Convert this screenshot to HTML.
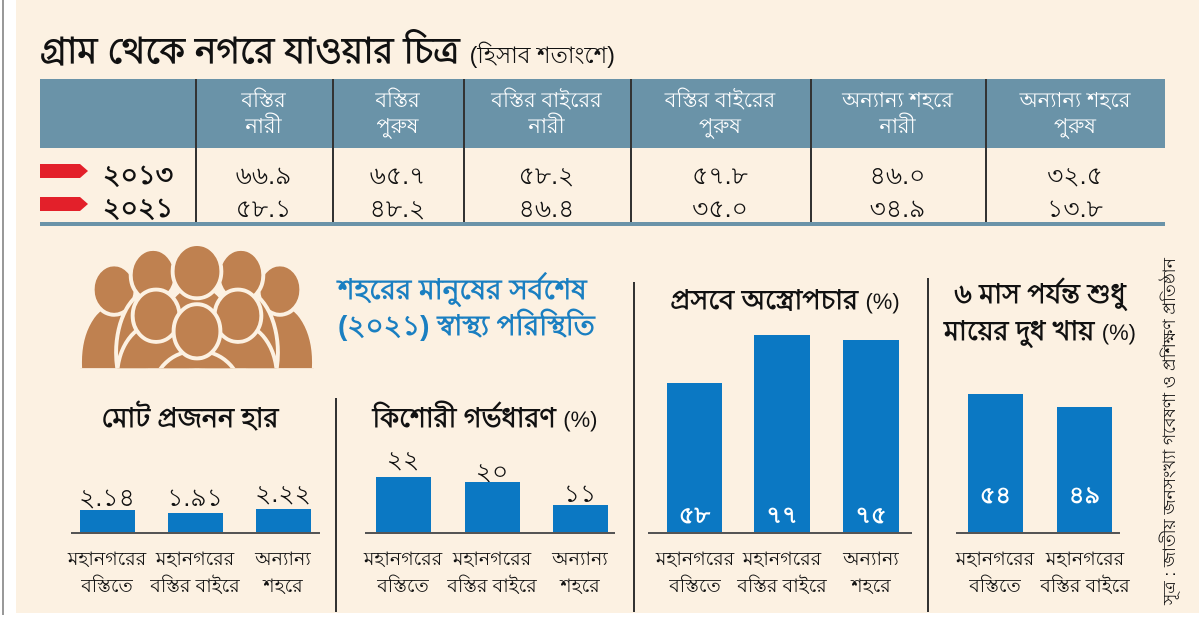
<!DOCTYPE html>
<html><head><meta charset="utf-8"><style>
*{margin:0;padding:0;box-sizing:border-box}
body{width:1200px;height:638px;background:#fff;position:relative;overflow:hidden;font-family:"Liberation Sans","Noto Sans CJK SC",sans-serif;color:#111}
.a{position:absolute}
.bar{position:absolute;background:#0b78c3}
.vl{position:absolute;width:1.5px;background:#333}
.hl{position:absolute;height:2px;background:#555}
.th{position:absolute;top:79px;height:69px;color:#fff;font-size:21px;line-height:26px;text-align:center;display:flex;align-items:center;justify-content:center}
.td{position:absolute;font-size:25px;text-align:center}
.cat{position:absolute;font-size:19px;line-height:27px;text-align:center;white-space:nowrap}
.val{position:absolute;font-size:25px;text-align:center}
.wv{position:absolute;font-size:24px;font-weight:bold;color:#fff;text-align:center}
.tt{position:absolute;font-size:27px;font-weight:bold;text-align:center;white-space:nowrap}
</style></head><body>
<div class="a" style="left:2px;top:0;width:1.5px;height:615px;background:#999"></div>
<div class="a" style="left:16px;top:0;width:1183px;height:613px;background:#fcf1e2"></div>

<div class="a" style="left:40px;top:24px;font-size:36px;font-weight:bold;white-space:nowrap">গ্রাম থেকে নগরে যাওয়ার চিত্র <span style="font-size:23px;font-weight:normal">(হিসাব শতাংশে)</span></div>

<div class="a" style="left:40px;top:79px;width:1125px;height:69px;background:#6a93a8"></div>
<div class="th" style="left:195px;width:137px">বস্তির<br>নারী</div>
<div class="th" style="left:332px;width:131px">বস্তির<br>পুরুষ</div>
<div class="th" style="left:463px;width:167px">বস্তির বাইরের<br>নারী</div>
<div class="th" style="left:630px;width:180px">বস্তির বাইরের<br>পুরুষ</div>
<div class="th" style="left:810px;width:175px">অন্যান্য শহরে<br>নারী</div>
<div class="th" style="left:985px;width:180px">অন্যান্য শহরে<br>পুরুষ</div>
<div class="vl" style="left:195px;top:79px;height:144px"></div>
<div class="vl" style="left:332px;top:79px;height:144px"></div>
<div class="vl" style="left:463px;top:79px;height:144px"></div>
<div class="vl" style="left:630px;top:79px;height:144px"></div>
<div class="vl" style="left:810px;top:79px;height:144px"></div>
<div class="vl" style="left:985px;top:79px;height:144px"></div>
<div class="a" style="left:40px;top:222px;width:1125px;height:4px;background:#6a93a8"></div>

<svg class="a" style="left:40px;top:164px" width="50" height="50"><polygon points="0,0 40,0 48,7 40,14 0,14" fill="#e3202a"/><polygon points="0,33 40,33 48,40 40,47 0,47" fill="#e3202a"/></svg>
<div class="a" style="left:103px;top:155px;font-size:27px;font-weight:bold">২০১৩</div>
<div class="a" style="left:103px;top:188px;font-size:27px;font-weight:bold">২০২১</div>
<div class="td" style="left:195px;width:137px;top:156px">৬৬.৯</div>
<div class="td" style="left:332px;width:131px;top:156px">৬৫.৭</div>
<div class="td" style="left:463px;width:167px;top:156px">৫৮.২</div>
<div class="td" style="left:630px;width:180px;top:156px">৫৭.৮</div>
<div class="td" style="left:810px;width:175px;top:156px">৪৬.০</div>
<div class="td" style="left:985px;width:180px;top:156px">৩২.৫</div>
<div class="td" style="left:195px;width:137px;top:189px">৫৮.১</div>
<div class="td" style="left:332px;width:131px;top:189px">৪৮.২</div>
<div class="td" style="left:463px;width:167px;top:189px">৪৬.৪</div>
<div class="td" style="left:630px;width:180px;top:189px">৩৫.০</div>
<div class="td" style="left:810px;width:175px;top:189px">৩৪.৯</div>
<div class="td" style="left:985px;width:180px;top:189px">১৩.৮</div>

<svg class="a" style="left:80px;top:246px" width="234" height="124" viewBox="0 0 240 128" preserveAspectRatio="none">
<defs><clipPath id="cp"><rect x="0" y="0" width="240" height="126"/></clipPath></defs>
<g clip-path="url(#cp)" fill="#bf8150" stroke="#fcf1e2" stroke-width="4">
<ellipse cx="35" cy="120" rx="35" ry="60"/><ellipse cx="205" cy="120" rx="35" ry="60"/>
<ellipse cx="35" cy="45" rx="22" ry="26"/><ellipse cx="205" cy="45" rx="22" ry="26"/>
<ellipse cx="75" cy="110" rx="38" ry="65"/><ellipse cx="165" cy="110" rx="38" ry="65"/>
<ellipse cx="75" cy="30" rx="23" ry="27"/><ellipse cx="165" cy="30" rx="23" ry="27"/>
<ellipse cx="120" cy="100" rx="40" ry="60"/><ellipse cx="120" cy="26" rx="25" ry="28"/>
<ellipse cx="78" cy="135" rx="40" ry="55"/><ellipse cx="162" cy="135" rx="40" ry="55"/>
<ellipse cx="78" cy="72" rx="24" ry="27"/><ellipse cx="162" cy="72" rx="24" ry="27"/>
<ellipse cx="120" cy="150" rx="45" ry="42"/><ellipse cx="120" cy="88" rx="24" ry="28"/>
</g></svg>
<div class="a" style="left:338px;top:272px;font-size:28px;line-height:36px;font-weight:bold;color:#1a7fc1;white-space:nowrap">শহরের মানুষের সর্বশেষ<br>(২০২১) স্বাস্থ্য পরিস্থিতি</div>

<div class="vl" style="left:335px;top:398px;height:214px"></div>
<div class="vl" style="left:633px;top:282px;height:330px"></div>
<div class="vl" style="left:927px;top:278px;height:334px"></div>

<div class="tt" style="left:60px;width:260px;top:398px">মোট প্রজনন হার</div>
<div class="val" style="left:67px;width:80px;top:478px">২.১৪</div>
<div class="val" style="left:155px;width:80px;top:478px">১.৯১</div>
<div class="val" style="left:243px;width:80px;top:474px">২.২২</div>
<div class="bar" style="left:80px;top:510px;width:55px;height:23px"></div>
<div class="bar" style="left:168px;top:513px;width:55px;height:20px"></div>
<div class="bar" style="left:256px;top:509px;width:55px;height:24px"></div>
<div class="hl" style="left:71px;top:532px;width:249px"></div>
<div class="cat" style="left:52px;width:110px;top:546px">মহানগরের<br>বস্তিতে</div>
<div class="cat" style="left:140px;width:110px;top:546px">মহানগরের<br>বস্তির বাইরে</div>
<div class="cat" style="left:228px;width:110px;top:546px">অন্যান্য<br>শহরে</div>

<div class="tt" style="left:345px;width:280px;top:398px">কিশোরী গর্ভধারণ <span style="font-weight:normal;font-size:22px">(%)</span></div>
<div class="val" style="left:368px;width:70px;top:440px">২২</div>
<div class="val" style="left:457px;width:70px;top:452px">২০</div>
<div class="val" style="left:545px;width:70px;top:474px">১১</div>
<div class="bar" style="left:376px;top:477px;width:55px;height:56px"></div>
<div class="bar" style="left:465px;top:482px;width:55px;height:51px"></div>
<div class="bar" style="left:553px;top:505px;width:55px;height:28px"></div>
<div class="hl" style="left:365px;top:532px;width:250px"></div>
<div class="cat" style="left:348px;width:110px;top:546px">মহানগরের<br>বস্তিতে</div>
<div class="cat" style="left:437px;width:110px;top:546px">মহানগরের<br>বস্তির বাইরে</div>
<div class="cat" style="left:525px;width:110px;top:546px">অন্যান্য<br>শহরে</div>

<div class="tt" style="left:645px;width:280px;top:280px">প্রসবে অস্ত্রোপচার <span style="font-weight:normal;font-size:22px">(%)</span></div>
<div class="bar" style="left:667px;top:383px;width:55px;height:150px"></div>
<div class="bar" style="left:754px;top:335px;width:56px;height:198px"></div>
<div class="bar" style="left:843px;top:340px;width:56px;height:193px"></div>
<div class="wv" style="left:667px;width:55px;top:497px">৫৮</div>
<div class="wv" style="left:754px;width:56px;top:497px">৭৭</div>
<div class="wv" style="left:843px;width:56px;top:497px">৭৫</div>
<div class="hl" style="left:648px;top:532px;width:264px"></div>
<div class="cat" style="left:640px;width:110px;top:546px">মহানগরের<br>বস্তিতে</div>
<div class="cat" style="left:727px;width:110px;top:546px">মহানগরের<br>বস্তির বাইরে</div>
<div class="cat" style="left:816px;width:110px;top:546px">অন্যান্য<br>শহরে</div>

<div class="tt" style="left:930px;width:220px;top:276px;line-height:37px">৬ মাস পর্যন্ত শুধু<br>মায়ের দুধ খায় <span style="font-weight:normal;font-size:22px">(%)</span></div>
<div class="bar" style="left:968px;top:394px;width:55px;height:139px"></div>
<div class="bar" style="left:1057px;top:407px;width:55px;height:126px"></div>
<div class="wv" style="left:968px;width:55px;top:477px">৫৪</div>
<div class="wv" style="left:1057px;width:55px;top:477px">৪৯</div>
<div class="hl" style="left:956px;top:532px;width:164px"></div>
<div class="cat" style="left:940px;width:110px;top:546px">মহানগরের<br>বস্তিতে</div>
<div class="cat" style="left:1030px;width:110px;top:546px">মহানগরের<br>বস্তির বাইরে</div>

<div class="a" style="left:1170px;top:435px;width:0;height:0">
<div style="position:absolute;left:-170px;top:-12px;width:340px;text-align:center;font-size:17px;line-height:24px;white-space:nowrap;transform:rotate(-90deg)">সূত্র : জাতীয় জনসংখ্যা গবেষণা ও প্রশিক্ষণ প্রতিষ্ঠান</div>
</div>
</body></html>
